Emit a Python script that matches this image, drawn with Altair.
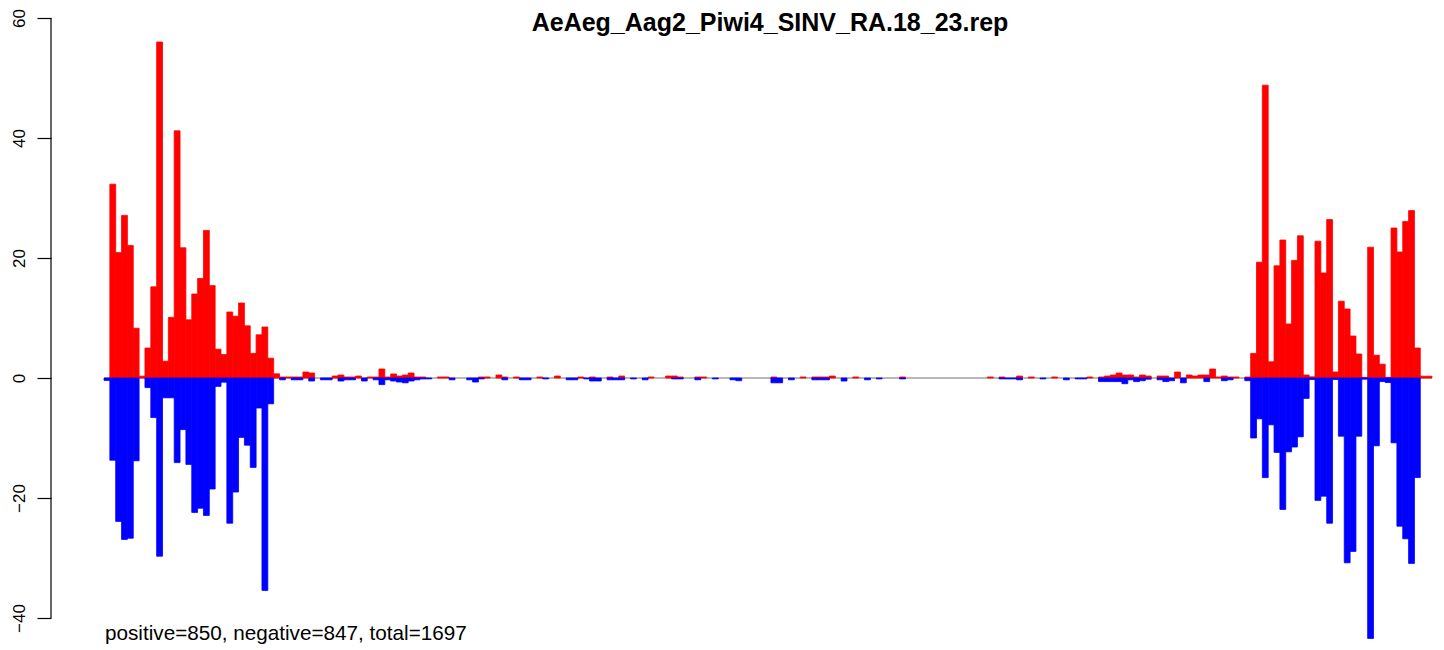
import altair as alt
import pandas as pd

# per-bin read counts (reads on + strand drawn up, - strand drawn down)
pos = [
    0.0, 32.3, 20.9, 27.1, 22.1, 8.3, 0.3, 5.0, 15.2, 56.0,
    2.8, 10.1, 41.2, 21.7, 9.7, 14.0, 16.6, 24.6, 15.4, 4.8,
    3.9, 11.0, 10.3, 12.5, 8.7, 4.1, 7.2, 8.5, 3.3, 0.7,
    0.17, 0.17, 0.17, 0.17, 1.0, 0.83, 0.0, 0.0, 0.0, 0.33,
    0.5, 0.17, 0.17, 0.33, 0.0, 0.17, 0.17, 1.5, 0.17, 0.67,
    0.33, 0.5, 0.83, 0.17, 0.17, 0.0, 0.0, 0.17, 0.17, 0.0,
    0.0, 0.0, 0.0, 0.0, 0.17, 0.17, 0.0, 0.5, 0.17, 0.0,
    0.17, 0.0, 0.0, 0.0, 0.17, 0.0, 0.0, 0.33, 0.0, 0.0,
    0.0, 0.17, 0.0, 0.17, 0.0, 0.0, 0.17, 0.0, 0.33, 0.0,
    0.0, 0.0, 0.0, 0.17, 0.0, 0.0, 0.33, 0.33, 0.17, 0.0,
    0.0, 0.17, 0.17, 0.0, 0.0, 0.0, 0.0, 0.0, 0.0, 0.0,
    0.0, 0.0, 0.0, 0.0, 0.17, 0.0, 0.0, 0.0, 0.0, 0.17,
    0.0, 0.17, 0.17, 0.17, 0.33, 0.0, 0.0, 0.0, 0.17, 0.0,
    0.0, 0.0, 0.0, 0.0, 0.0, 0.0, 0.17, 0.0, 0.0, 0.0,
    0.0, 0.0, 0.0, 0.0, 0.0, 0.0, 0.0, 0.0, 0.0, 0.0,
    0.0, 0.17, 0.0, 0.17, 0.0, 0.0, 0.33, 0.0, 0.17, 0.0,
    0.0, 0.0, 0.17, 0.0, 0.0, 0.0, 0.0, 0.0, 0.17, 0.0,
    0.17, 0.33, 0.5, 0.83, 0.5, 0.5, 0.17, 0.5, 0.33, 0.0,
    0.33, 0.33, 0.0, 1.0, 0.0, 0.5, 0.33, 0.5, 0.5, 1.5,
    0.17, 0.33, 0.17, 0.17, 0.0, 0.17, 4.1, 19.3, 48.8, 2.7,
    18.7, 23.0, 9.0, 19.6, 23.7, 0.5, 0.2, 22.8, 17.5, 26.4,
    1.0, 12.8, 11.5, 7.0, 4.0, 0.1, 21.8, 3.8, 2.3, 0.1,
    25.0, 21.0, 26.1, 27.9, 5.0, 0.3, 0.3,
]

neg = [
    -0.4, -13.7, -23.9, -26.9, -26.7, -13.8, 0.0, -1.6, -6.6, -29.7,
    -3.3, -3.3, -14.1, -8.6, -14.4, -22.4, -21.7, -22.9, -18.5, -1.4,
    -0.7, -24.2, -19.0, -9.9, -11.2, -14.9, -5.0, -35.4, -4.3, 0.0,
    -0.3, 0.0, -0.3, -0.3, 0.0, -0.5, 0.0, -0.3, -0.3, 0.0,
    -0.5, -0.3, -0.3, 0.0, -0.5, 0.0, -0.3, -1.1, -0.3, -0.5,
    -0.67, -0.8, -0.5, -0.3, -0.15, -0.15, 0.0, 0.0, 0.0, -0.3,
    0.0, 0.0, -0.3, -0.67, -0.15, 0.0, 0.0, 0.0, -0.3, 0.0,
    0.0, -0.3, -0.3, 0.0, 0.0, -0.15, 0.0, 0.0, 0.0, -0.3,
    -0.3, 0.0, -0.15, -0.5, -0.5, 0.0, -0.3, -0.3, -0.3, 0.0,
    -0.15, 0.0, -0.3, 0.0, 0.0, 0.0, 0.0, -0.15, -0.15, 0.0,
    0.0, -0.3, 0.0, 0.0, -0.15, 0.0, 0.0, -0.3, -0.45, 0.0,
    0.0, 0.0, 0.0, 0.0, -0.8, -0.8, 0.0, -0.3, 0.0, 0.0,
    0.0, -0.3, -0.3, -0.3, 0.0, 0.0, -0.5, 0.0, 0.0, 0.0,
    -0.3, 0.0, -0.15, 0.0, 0.0, 0.0, -0.15, 0.0, 0.0, 0.0,
    0.0, 0.0, 0.0, 0.0, 0.0, 0.0, 0.0, 0.0, 0.0, 0.0,
    0.0, 0.0, 0.0, -0.15, -0.15, -0.15, -0.3, 0.0, 0.0, 0.0,
    -0.15, 0.0, 0.0, 0.0, -0.3, 0.0, -0.15, -0.15, 0.0, 0.0,
    -0.6, -0.6, -0.6, -0.6, -0.95, -0.3, -0.6, -0.45, -0.2, 0.0,
    -0.3, -0.6, -0.45, 0.0, -0.8, 0.0, 0.0, 0.0, -0.6, 0.0,
    0.0, -0.45, -0.3, 0.0, 0.0, -0.45, -10.0, -6.8, -16.6, -7.8,
    -12.4, -21.9, -12.3, -11.5, -9.8, -3.4, -0.25, -20.4, -19.7, -24.2,
    -0.25, -9.7, -30.8, -28.9, -9.7, -0.2, -43.4, -11.3, -0.6, -0.75,
    -10.8, -24.7, -26.8, -30.9, -16.6, 0.0, 0.0,
]

y_ticks = [-40, -20, 0, 20, 40, 60]
title_text = "AeAeg_Aag2_Piwi4_SINV_RA.18_23.rep"
footer_text = "positive=850, negative=847, total=1697"

n = len(pos)
df = pd.DataFrame({
    "bin": list(range(n)),
    "bin_end": [i + 1 for i in range(n)],
    "pos": pos,
    "neg": neg,
})
base_df = pd.DataFrame({"x0": [0], "x1": [n], "y": [0]})
axis_df = pd.DataFrame({"ytop": [max(y_ticks)], "ybot": [min(y_ticks)]})

FONT = "Liberation Sans"
xscale = alt.Scale(domain=[-9.0598, 227.684], nice=False, zero=False)
yscale = alt.Scale(domain=[-45, 61.6667], nice=False, zero=False)

yaxis = alt.Axis(
    values=y_ticks,
    domain=False,
    grid=False,
    ticks=True,
    tickSize=14,
    tickColor="black",
    tickWidth=1.2,
    labelAngle=-90,
    labelAlign="center",
    labelBaseline="alphabetic",
    labelPadding=13,
    labelFont=FONT,
    labelFontSize=17,
    labelColor="black",
    title=None,
)

baseline = alt.Chart(base_df).mark_rule(color="#a0a0a0", strokeWidth=1.6).encode(
    x=alt.X("x0:Q", scale=xscale, axis=None),
    x2="x1:Q",
    y=alt.Y("y:Q", scale=yscale, axis=yaxis),
)

red = alt.Chart(df).transform_filter("datum.pos > 0").mark_rect(
    color="#ff0000", stroke="#ff0000", strokeWidth=0.8
).encode(
    x=alt.X("bin:Q", scale=xscale, axis=None),
    x2="bin_end:Q",
    y=alt.Y("pos:Q", scale=yscale, axis=yaxis),
    y2=alt.datum(0),
)

blue = alt.Chart(df).transform_filter("datum.neg < 0").mark_rect(
    color="#0000ff", stroke="#0000ff", strokeWidth=0.8
).encode(
    x=alt.X("bin:Q", scale=xscale, axis=None),
    x2="bin_end:Q",
    y=alt.Y("neg:Q", scale=yscale, axis=yaxis),
    y2=alt.datum(0),
)

yaxis_line = alt.Chart(axis_df).mark_rule(color="black", strokeWidth=1.2).encode(
    x=alt.value(0),
    y=alt.Y("ytop:Q", scale=yscale, axis=yaxis),
    y2="ybot:Q",
)

title = alt.Chart(pd.DataFrame({"t": [title_text]})).mark_text(
    font=FONT, fontSize=25, fontWeight="bold", align="center", baseline="alphabetic", color="black"
).encode(x=alt.value(719), y=alt.value(23), text="t:N")

footer = alt.Chart(pd.DataFrame({"t": [footer_text]})).mark_text(
    font=FONT, fontSize=20.7, align="left", baseline="alphabetic", color="black"
).encode(x=alt.value(54), y=alt.value(632), text="t:N")

chart = alt.layer(baseline, red, blue, yaxis_line, title, footer).properties(
    width=1385,
    height=640,
    padding={"left": 43, "top": 0, "right": 0, "bottom": 2},
    autosize=alt.AutoSizeParams(type="none"),
    background="white",
).configure_view(stroke=None)

chart.save("out.html", embed_options={"renderer": "svg", "actions": False})
